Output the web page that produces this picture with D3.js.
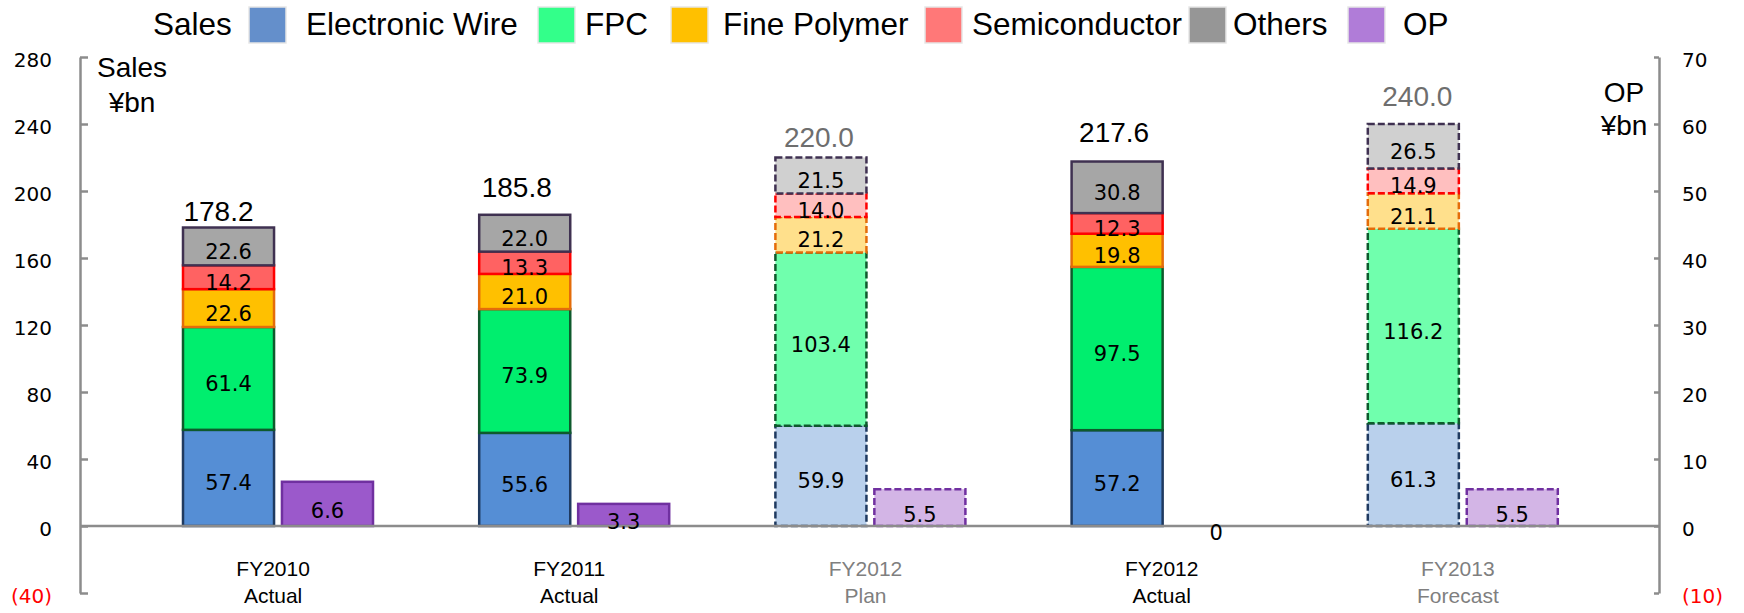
<!DOCTYPE html>
<html>
<head>
<meta charset="utf-8">
<script src="https://cdn.jsdelivr.net/npm/d3@7"></script>
<style>
  html, body { margin: 0; padding: 0; background: #ffffff; }
  svg { display: block; }
</style>
</head>
<body>
<script>
// ---------------- DATA ----------------
const catYear   = ["FY2010", "FY2011", "FY2012", "FY2012", "FY2013"];
const catStatus = ["Actual", "Actual", "Plan", "Actual", "Forecast"];
const isPlan    = [false, false, true, false, true];

const electronicWire = [57.4, 55.6, 59.9, 57.2, 61.3];
const fpc            = [61.4, 73.9, 103.4, 97.5, 116.2];
const finePolymer    = [22.6, 21.0, 21.2, 19.8, 21.1];
const semiconductor  = [14.2, 13.3, 14.0, 12.3, 14.9];
const others         = [22.6, 22.0, 21.5, 30.8, 26.5];
const salesTotal     = [178.2, 185.8, 220.0, 217.6, 240.0];
const op             = [6.6, 3.3, 5.5, 0, 5.5];

const seriesNames = ["Electronic Wire", "FPC", "Fine Polymer", "Semiconductor", "Others"];
const legendNames = ["Electronic Wire", "FPC", "Fine Polymer", "Semiconductor", "Others", "OP"];

const salesTicks = [-40, 0, 40, 80, 120, 160, 200, 240, 280];
const opTicks    = [-10, 0, 10, 20, 30, 40, 50, 60, 70];

// ---------------- STYLE / LAYOUT ----------------
const W = 1744, H = 613;
const fillActual = ["#558ED5", "#00EE6E", "#FFC000", "#FF6262", "#A6A6A6"];
const fillPlan   = ["#B9D0EC", "#70FFAD", "#FFE08C", "#FFBFBF", "#D0D0D0"];
const strokeSeg  = ["#1F3A60", "#0E5A2C", "#E46C0A", "#FF0000", "#3F3151"];
const legendFill = ["#648FCB", "#33FF8A", "#FFC000", "#FF7878", "#969696", "#B07CD8"];
const opFill = "#9B59CB", opFillPlan = "#D3B5E6", opStroke = "#7030A0";
const axisColor = "#8C8C8C";
const planText = "#7F7F7F";
const planDash = "7,3";

const legendSwatchX = [249, 538, 671, 925, 1189, 1348];
const legendTextX   = [306, 585, 723, 972, 1233, 1403];
const totalGap = [7, 18, 11, 20, 18];
const totalDx  = [-10, -8, -2, -3, 4];

const numFont = "'DejaVu Sans', sans-serif";
const txtFont = "'Liberation Sans', Arial, sans-serif";

// ---------------- SCALES ----------------
const keys = catYear.map((d, i) => d + " " + catStatus[i]);
const x = d3.scaleBand().domain(keys).range([130, 1611]);
const x1 = d3.scaleBand().domain(["Sales", "OP"]).range([53, 243]).paddingInner(0.08);
const y  = d3.scaleLinear().domain([-40, 280]).range([593, 57]);
const y2 = d3.scaleLinear().domain([-10, 70]).range([593, 57]);

const svg = d3.select("body").append("svg").attr("width", W).attr("height", H);
svg.append("rect").attr("width", W).attr("height", H).attr("fill", "#fff");

// ---------------- STACK ----------------
const rows = keys.map((k, i) => ({
  key: k, i,
  "Electronic Wire": electronicWire[i], "FPC": fpc[i], "Fine Polymer": finePolymer[i],
  "Semiconductor": semiconductor[i], "Others": others[i]
}));
const stacked = d3.stack().keys(seriesNames)(rows);

const bars = svg.append("g");
stacked.forEach((layer, si) => {
  layer.forEach(seg => {
    const i = seg.data.i;
    bars.append("rect")
      .attr("x", x(seg.data.key) + x1("Sales"))
      .attr("width", x1.bandwidth())
      .attr("y", y(seg[1]))
      .attr("height", y(seg[0]) - y(seg[1]))
      .attr("fill", isPlan[i] ? fillPlan[si] : fillActual[si])
      .attr("stroke", strokeSeg[si])
      .attr("stroke-width", 2.5)
      .attr("stroke-dasharray", isPlan[i] ? planDash : null);
  });
});

// OP bars
keys.forEach((k, i) => {
  if (op[i] === 0) return;
  bars.append("rect")
    .attr("x", x(k) + x1("OP"))
    .attr("width", x1.bandwidth())
    .attr("y", y2(op[i]))
    .attr("height", y2(0) - y2(op[i]))
    .attr("fill", isPlan[i] ? opFillPlan : opFill)
    .attr("stroke", opStroke)
    .attr("stroke-width", 2.5)
    .attr("stroke-dasharray", isPlan[i] ? planDash : null);
});

// ---------------- AXES ----------------
const fmtTick = d => d < 0 ? "(" + (-d) + ")" : String(d);
const styleAxis = g => {
  g.select(".domain").attr("stroke", axisColor).attr("stroke-width", 2.5);
  g.selectAll(".tick line").attr("stroke", axisColor).attr("stroke-width", 2.5);
  g.selectAll(".tick text")
    .attr("font-family", numFont).attr("font-size", 20)
    .attr("fill", d => d < 0 ? "#FF0000" : "#000")
    .attr("dy", "0.45em");
};
svg.append("g").attr("transform", "translate(80,0)")
  .call(d3.axisLeft(y).tickValues(salesTicks).tickFormat(fmtTick).tickSizeInner(-8).tickSizeOuter(0).tickPadding(28))
  .call(styleAxis);
svg.append("g").attr("transform", "translate(1659,0)")
  .call(d3.axisRight(y2).tickValues(opTicks).tickFormat(fmtTick).tickSizeInner(-5).tickSizeOuter(0).tickPadding(23))
  .call(styleAxis);

// baseline
svg.append("line").attr("x1", 80).attr("x2", 1659).attr("y1", y(0)).attr("y2", y(0))
  .attr("stroke", axisColor).attr("stroke-width", 2.5);

// ---------------- LABELS ----------------
const labels = svg.append("g");
stacked.forEach(layer => {
  layer.forEach(seg => {
    const cx = x(seg.data.key) + x1("Sales") + x1.bandwidth() / 2;
    const cy = (y(seg[0]) + y(seg[1])) / 2;
    labels.append("text")
      .attr("x", cx).attr("y", cy + 12.5)
      .attr("text-anchor", "middle")
      .attr("font-family", numFont).attr("font-size", 21)
      .attr("fill", "#000")
      .text((seg[1] - seg[0]).toFixed(1));
  });
});
keys.forEach((k, i) => {
  const cx = x(k) + x1("OP") + x1.bandwidth() / 2;
  const cy = (y2(op[i]) + y2(0)) / 2;
  labels.append("text")
    .attr("x", cx).attr("y", cy + 14)
    .attr("text-anchor", "middle")
    .attr("font-family", numFont).attr("font-size", 21)
    .attr("fill", "#000")
    .text(op[i] === 0 ? "0" : op[i].toFixed(1));
  // totals
  labels.append("text")
    .attr("x", x(k) + x1("Sales") + x1.bandwidth() / 2 + totalDx[i])
    .attr("y", y(salesTotal[i]) - totalGap[i])
    .attr("text-anchor", "middle")
    .attr("font-family", txtFont).attr("font-size", 28)
    .attr("fill", isPlan[i] ? "#6E6E6E" : "#000")
    .text(salesTotal[i].toFixed(1));
  // category labels
  const cxl = x(k) + x.bandwidth() / 2 - 5;
  labels.append("text").attr("x", cxl).attr("y", 576)
    .attr("text-anchor", "middle").attr("font-family", txtFont).attr("font-size", 21)
    .attr("fill", isPlan[i] ? planText : "#000").text(catYear[i]);
  labels.append("text").attr("x", cxl).attr("y", 603)
    .attr("text-anchor", "middle").attr("font-family", txtFont).attr("font-size", 21)
    .attr("fill", isPlan[i] ? planText : "#000").text(catStatus[i]);
});

// axis titles
[["Sales", 76.5], ["¥bn", 111.5]].forEach(([t, yy]) =>
  svg.append("text").attr("x", 132).attr("y", yy).attr("text-anchor", "middle")
    .attr("font-family", txtFont).attr("font-size", 28).attr("fill", "#000").text(t));
[["OP", 101.5], ["¥bn", 135]].forEach(([t, yy]) =>
  svg.append("text").attr("x", 1624).attr("y", yy).attr("text-anchor", "middle")
    .attr("font-family", txtFont).attr("font-size", 28).attr("fill", "#000").text(t));

// ---------------- LEGEND ----------------
const legend = svg.append("g");
legend.append("text").attr("x", 153).attr("y", 35)
  .attr("font-family", txtFont).attr("font-size", 31.5).attr("fill", "#000").text("Sales");
legendNames.forEach((n, i) => {
  legend.append("rect").attr("x", legendSwatchX[i]).attr("y", 7)
    .attr("width", 37).attr("height", 36)
    .attr("fill", legendFill[i]).attr("stroke", "#E6E6E6").attr("stroke-width", 1.5);
  legend.append("text").attr("x", legendTextX[i]).attr("y", 35)
    .attr("font-family", txtFont).attr("font-size", 31.5).attr("fill", "#000").text(n);
});
</script>
</body>
</html>
